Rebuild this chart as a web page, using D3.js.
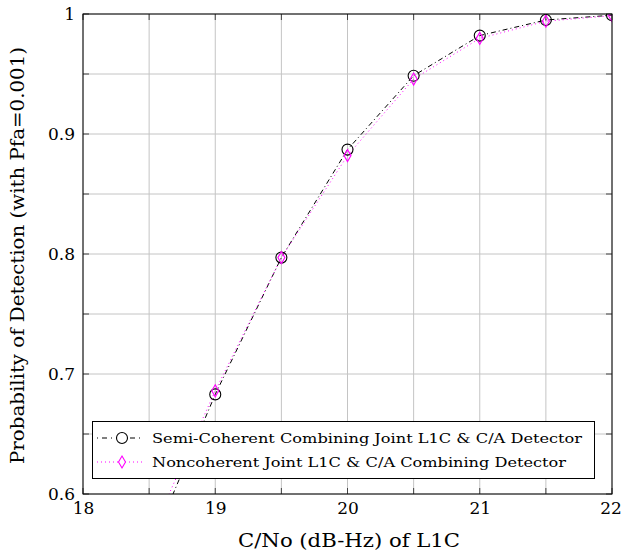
<!DOCTYPE html>
<html><head><meta charset="utf-8">
<script src="https://cdn.jsdelivr.net/npm/d3@7"></script>
<style>body{margin:0;background:#fff}svg{display:block}text{font-family:"DejaVu Serif",serif;fill:#000}</style>
</head><body><svg id="c" width="622" height="554"></svg>
<script>
const snr = [18.5, 19, 19.5, 20, 20.5, 21, 21.5, 22];
const semiCoherent = [0.553, 0.683, 0.797, 0.887, 0.9486, 0.982, 0.995, 0.999];
const noncoherent = [0.563, 0.686, 0.797, 0.882, 0.9458, 0.9797, 0.994, 0.9986];
const xTicks = [18, 19, 20, 21, 22];
const yTicks = [0.6, 0.7, 0.8, 0.9, 1];
const xMinor = [18, 18.5, 19, 19.5, 20, 20.5, 21, 21.5, 22];
const yMinor = [0.6, 0.65, 0.7, 0.75, 0.8, 0.85, 0.9, 0.95, 1];
const seriesNames = ["Semi-Coherent Combining Joint L1C & C/A Detector", "Noncoherent Joint L1C & C/A Combining Detector"];

const L = 83, R = 612, T = 14, B = 494;
const svg = d3.select("#c");
const x = d3.scaleLinear().domain([18, 22]).range([L, R]);
const y = d3.scaleLinear().domain([0.6, 1]).range([B, T]);

// grid
svg.append("g").selectAll("line").data(xMinor).join("line")
  .attr("x1", d => x(d)).attr("x2", d => x(d)).attr("y1", T).attr("y2", B)
  .attr("stroke", "#c4c4c4").attr("stroke-width", 1);
svg.append("g").selectAll("line").data(yMinor).join("line")
  .attr("y1", d => y(d)).attr("y2", d => y(d)).attr("x1", L).attr("x2", R)
  .attr("stroke", "#c4c4c4").attr("stroke-width", 1);

// inward ticks on all sides
const tk = 6;
const tg = svg.append("g").attr("stroke", "#444").attr("stroke-width", 1);
xMinor.forEach(d => {
  tg.append("line").attr("x1", x(d)).attr("x2", x(d)).attr("y1", B).attr("y2", B - tk);
  tg.append("line").attr("x1", x(d)).attr("x2", x(d)).attr("y1", T).attr("y2", T + tk);
});
yMinor.forEach(d => {
  tg.append("line").attr("y1", y(d)).attr("y2", y(d)).attr("x1", L).attr("x2", L + tk);
  tg.append("line").attr("y1", y(d)).attr("y2", y(d)).attr("x1", R).attr("x2", R - tk);
});

// tick labels via axes
const xAxis = svg.append("g").attr("transform", `translate(0,${B})`)
  .call(d3.axisBottom(x).tickValues(xTicks).tickSize(0).tickPadding(8).tickFormat(d3.format("d")));
xAxis.select(".domain").remove();
xAxis.selectAll("text").style("font-size", "17px").style("font-family", '"DejaVu Serif",serif')
  .attr("dx", d => d === 22 ? -1.5 : 0);
const yAxis = svg.append("g").attr("transform", `translate(${L},0)`)
  .call(d3.axisLeft(y).tickValues(yTicks).tickSize(0).tickPadding(8).tickFormat(d => d === 1 ? "1" : d3.format(".1f")(d)));
yAxis.select(".domain").remove();
yAxis.selectAll("text").style("font-size", "17px").style("font-family", '"DejaVu Serif",serif');

// clip
svg.append("clipPath").attr("id", "clip").append("rect").attr("x", L).attr("y", T).attr("width", R - L).attr("height", B - T);

const line = d3.line().x(d => x(d[0])).y(d => y(d[1]));
const semiPts = snr.map((s, i) => [s, semiCoherent[i]]);
const nonPts = snr.map((s, i) => [s, noncoherent[i]]);
const g = svg.append("g").attr("clip-path", "url(#clip)");
const dashDot = "5,3,1,3";
const dotted = "1,3";
g.append("path").attr("d", line(semiPts)).attr("fill", "none").attr("stroke", "#000").attr("stroke-width", 1).attr("stroke-dasharray", dashDot);
g.append("path").attr("d", line(nonPts)).attr("fill", "none").attr("stroke", "#ff00ff").attr("stroke-width", 1).attr("stroke-dasharray", dotted);

const diamond = (cx, cy) => `M${cx},${cy - 6}L${cx + 3.5},${cy}L${cx},${cy + 6}L${cx - 3.5},${cy}Z`;
const vis = p => p[1] >= 0.6;
g.selectAll("circle.s").data(semiPts.filter(vis)).join("circle")
  .attr("cx", d => x(d[0])).attr("cy", d => y(d[1])).attr("r", 5.5)
  .attr("fill", "none").attr("stroke", "#000").attr("stroke-width", 1.1);
g.selectAll("path.n").data(nonPts.filter(vis)).join("path")
  .attr("d", d => diamond(x(d[0]), y(d[1])))
  .attr("fill", "none").attr("stroke", "#ff00ff").attr("stroke-width", 1.1);

// frame
svg.append("rect").attr("x", L).attr("y", T).attr("width", R - L).attr("height", B - T)
  .attr("fill", "none").attr("stroke", "#000").attr("stroke-width", 1);

// legend
const lg = svg.append("g");
lg.append("rect").attr("x", 92.5).attr("y", 421.5).attr("width", 502).attr("height", 57)
  .attr("fill", "#fff").attr("stroke", "#000").attr("stroke-width", 1);
const ly = [438, 462];
lg.append("line").attr("x1", 97).attr("x2", 142).attr("y1", ly[0]).attr("y2", ly[0])
  .attr("stroke", "#000").attr("stroke-dasharray", "5,4,1,4").attr("stroke-dashoffset", 9);
lg.append("circle").attr("cx", 122).attr("cy", ly[0]).attr("r", 5.5).attr("fill", "#fff").attr("stroke", "#000").attr("stroke-width", 1.1);
lg.append("line").attr("x1", 97).attr("x2", 142).attr("y1", ly[1]).attr("y2", ly[1])
  .attr("stroke", "#ff00ff").attr("stroke-dasharray", dotted);
lg.append("path").attr("d", diamond(122, ly[1])).attr("fill", "#fff").attr("stroke", "#ff00ff").attr("stroke-width", 1.1);
const lw = [430, 414];
seriesNames.forEach((n, i) => {
  lg.append("text").attr("x", 152).attr("y", ly[i] + 4.5).attr("textLength", lw[i]).attr("lengthAdjust", "spacingAndGlyphs")
    .style("font-size", "12.5px").text(n);
});

// axis labels
svg.append("text").attr("x", 238).attr("y", 547).attr("textLength", 222).attr("lengthAdjust", "spacingAndGlyphs")
  .style("font-size", "19px").text("C/No (dB-Hz) of L1C");
svg.append("text").attr("transform", "translate(24,464) rotate(-90)").attr("textLength", 417).attr("lengthAdjust", "spacingAndGlyphs")
  .style("font-size", "19px").text("Probability of Detection (with Pfa=0.001)");
</script></body></html>
